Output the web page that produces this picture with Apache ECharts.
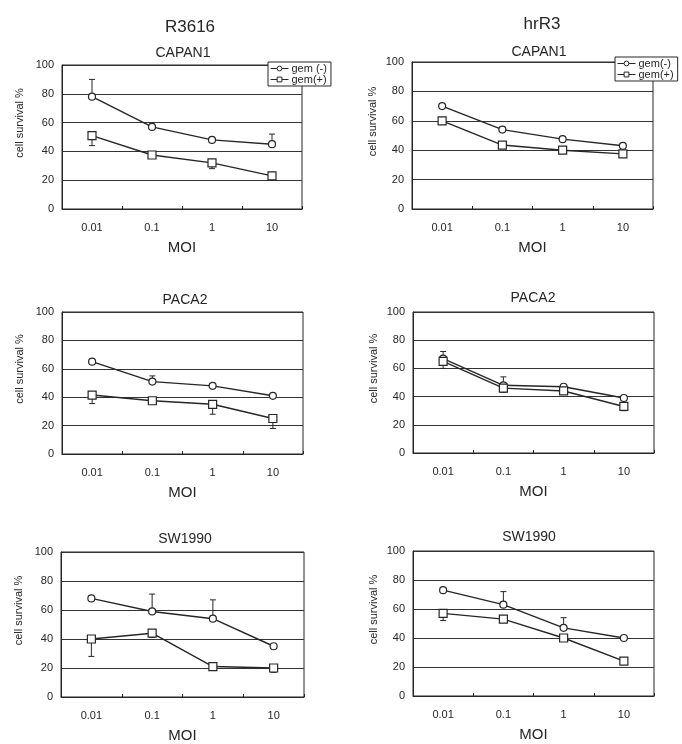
<!DOCTYPE html>
<html><head><meta charset="utf-8">
<script src="https://cdn.jsdelivr.net/npm/echarts@6/dist/echarts.min.js"></script>
<style>html,body{margin:0;padding:0;background:#fff}#c{width:682px;height:744px}</style>
</head><body><div id="c"></div>
<script>
const categories = ['0.01', '0.1', '1', '10'];
const yTicks = [0, 20, 40, 60, 80, 100];

// R3616
const r3616Capan1Neg = [78, 57, 48, 45];
const r3616Capan1NegErr = [12, 2, 0, 7];
const r3616Capan1Pos = [51, 37.5, 32, 23];
const r3616Capan1PosErr = [7, 0, 4, 0];
const r3616Paca2Neg = [65, 51, 48, 41];
const r3616Paca2NegErr = [0, 4, 0, 0];
const r3616Paca2Pos = [41.5, 37.5, 35, 25];
const r3616Paca2PosErr = [6, 0, 7, 7];
const r3616Sw1990Neg = [68, 59, 54, 35];
const r3616Sw1990NegErr = [0, 12, 13, 0];
const r3616Sw1990Pos = [40, 44, 21, 20];
const r3616Sw1990PosErr = [12, 3, 0, 3];

// hrR3
const hrR3Capan1Neg = [70, 54, 47.5, 43];
const hrR3Capan1NegErr = [0, 0, 0, 0];
const hrR3Capan1Pos = [60, 43.5, 40, 37.5];
const hrR3Capan1PosErr = [0, 0, 0, 0];
const hrR3Paca2Neg = [67, 48, 47, 39];
const hrR3Paca2NegErr = [5, 6, 0, 0];
const hrR3Paca2Pos = [65, 46, 44, 33];
const hrR3Paca2PosErr = [5, 3, 0, 3];
const hrR3Sw1990Neg = [73, 63, 47, 40];
const hrR3Sw1990NegErr = [0, 9, 7, 0];
const hrR3Sw1990Pos = [57, 53, 40, 24];
const hrR3Sw1990PosErr = [5, 0, 0, 0];

const panels = [
  {title: 'CAPAN1', grid: {left: 62, top: 65, width: 240, height: 144}, neg: r3616Capan1Neg, negErr: r3616Capan1NegErr, pos: r3616Capan1Pos, posErr: r3616Capan1PosErr, negName: 'gem (-)', posName: 'gem(+)', tx: 178, ty: 41},
  {title: 'CAPAN1', grid: {left: 412, top: 62, width: 241, height: 147}, neg: hrR3Capan1Neg, negErr: hrR3Capan1NegErr, pos: hrR3Capan1Pos, posErr: hrR3Capan1PosErr, negName: 'gem(-)', posName: 'gem(+)', tx: 534, ty: 40},
  {title: 'PACA2', grid: {left: 62, top: 312, width: 241, height: 142}, neg: r3616Paca2Neg, negErr: r3616Paca2NegErr, pos: r3616Paca2Pos, posErr: r3616Paca2PosErr, negName: 'gem(-)', posName: 'gem(+)', tx: 180, ty: 288},
  {title: 'PACA2', grid: {left: 413, top: 312, width: 241, height: 141}, neg: hrR3Paca2Neg, negErr: hrR3Paca2NegErr, pos: hrR3Paca2Pos, posErr: hrR3Paca2PosErr, negName: 'gem(-)', posName: 'gem(+)', tx: 528, ty: 286},
  {title: 'SW1990', grid: {left: 61, top: 552, width: 243, height: 145}, neg: r3616Sw1990Neg, negErr: r3616Sw1990NegErr, pos: r3616Sw1990Pos, posErr: r3616Sw1990PosErr, negName: 'gem(-)', posName: 'gem(+)', tx: 180, ty: 527},
  {title: 'SW1990', grid: {left: 413, top: 551, width: 241, height: 145}, neg: hrR3Sw1990Neg, negErr: hrR3Sw1990NegErr, pos: hrR3Sw1990Pos, posErr: hrR3Sw1990PosErr, negName: 'gem(-)', posName: 'gem(+)', tx: 524, ty: 525}
];

const INK = '#262626';
const FONT = 'Liberation Sans, Arial, sans-serif';

const titles = [
  {text: 'R3616', left: 185, top: 14, textAlign: 'center', textStyle: {fontFamily: FONT, fontSize: 17, fontWeight: 'normal', color: INK}},
  {text: 'hrR3', left: 537, top: 11, textAlign: 'center', textStyle: {fontFamily: FONT, fontSize: 17, fontWeight: 'normal', color: INK}}
];
const grids = [], xAxes = [], yAxes = [], series = [];

function errRender(dir) {
  return function (params, api) {
    const idx = api.value(0);
    const v = api.value(1);
    const e = api.value(2);
    if (!e) return null;
    const p0 = api.coord([idx, v]);
    const p1 = api.coord([idx, v + dir * e]);
    const style = {stroke: INK, lineWidth: 1};
    return {
      type: 'group',
      children: [
        {type: 'line', shape: {x1: p0[0], y1: p0[1], x2: p1[0], y2: p1[1]}, style: style},
        {type: 'line', shape: {x1: p1[0] - 3, y1: p1[1], x2: p1[0] + 3, y2: p1[1]}, style: style}
      ]
    };
  };
}

panels.forEach((p, i) => {
  titles.push({text: p.title, left: p.tx, top: p.ty, textAlign: 'center',
    textStyle: {fontFamily: FONT, fontSize: 14, fontWeight: 'normal', color: INK}});
  grids.push(Object.assign({show: true, borderColor: INK, borderWidth: 1, backgroundColor: 'transparent'}, p.grid));
  xAxes.push({
    type: 'category', gridIndex: i, data: categories, boundaryGap: true,
    name: 'MOI', nameLocation: 'middle', nameGap: 31,
    nameTextStyle: {fontFamily: FONT, fontSize: 15, color: INK},
    axisLine: {lineStyle: {color: INK, width: 1}},
    axisTick: {show: true, inside: true, length: 3, lineStyle: {color: INK}},
    axisLabel: {fontFamily: FONT, fontSize: 11, color: INK, margin: 13},
    splitLine: {show: false}
  });
  yAxes.push({
    type: 'value', gridIndex: i, min: yTicks[0], max: yTicks[yTicks.length - 1], interval: 20,
    name: 'cell survival %', nameLocation: 'middle', nameGap: (i % 2 === 0) ? 37 : 34, nameRotate: 90,
    nameTextStyle: {fontFamily: FONT, fontSize: 11, color: INK, padding: [0, 0, 0, 28]},
    axisLine: {show: true, lineStyle: {color: INK, width: 1}},
    axisTick: {show: false},
    axisLabel: {fontFamily: FONT, fontSize: 11, color: INK, margin: 8},
    splitLine: {show: true, lineStyle: {color: '#333', width: 1}}
  });
  series.push({
    name: p.negName, type: 'line', xAxisIndex: i, yAxisIndex: i, data: p.neg,
    symbol: 'circle', symbolSize: 7, z: 5,
    lineStyle: {color: INK, width: 1.4},
    itemStyle: {color: '#fff', borderColor: INK, borderWidth: 1.2}
  });
  series.push({
    name: p.posName, type: 'line', xAxisIndex: i, yAxisIndex: i, data: p.pos,
    symbol: 'rect', symbolSize: 8, z: 5,
    lineStyle: {color: INK, width: 1.4},
    itemStyle: {color: '#fff', borderColor: INK, borderWidth: 1.2}
  });
  series.push({
    type: 'custom', xAxisIndex: i, yAxisIndex: i, z: 4, renderItem: errRender(1),
    data: p.neg.map((v, k) => [k, v, p.negErr[k]])
  });
  series.push({
    type: 'custom', xAxisIndex: i, yAxisIndex: i, z: 4, renderItem: errRender(-1),
    data: p.pos.map((v, k) => [k, v, p.posErr[k]])
  });
});

const legendCommon = {
  orient: 'vertical', borderColor: INK, borderWidth: 1, backgroundColor: '#fff',
  padding: [1, 4, 1, 2], itemGap: 0, itemWidth: 18, itemHeight: 6,
  textStyle: {fontFamily: FONT, fontSize: 11, color: INK, lineHeight: 10, padding: [0, 0, 0, -2]},
  itemStyle: {borderWidth: 1},
  lineStyle: {width: 1},
  selectedMode: false
};
const legends = [
  Object.assign({left: 268, top: 62, data: ['gem (-)', 'gem(+)']}, legendCommon),
  Object.assign({left: 615, top: 57, data: ['gem(-)', 'gem(+)']}, legendCommon)
];

const chart = echarts.init(document.getElementById('c'), null, {renderer: 'canvas'});
chart.setOption({
  backgroundColor: '#fff',
  animation: false,
  title: titles,
  legend: legends,
  grid: grids,
  xAxis: xAxes,
  yAxis: yAxes,
  series: series
});
</script></body></html>
